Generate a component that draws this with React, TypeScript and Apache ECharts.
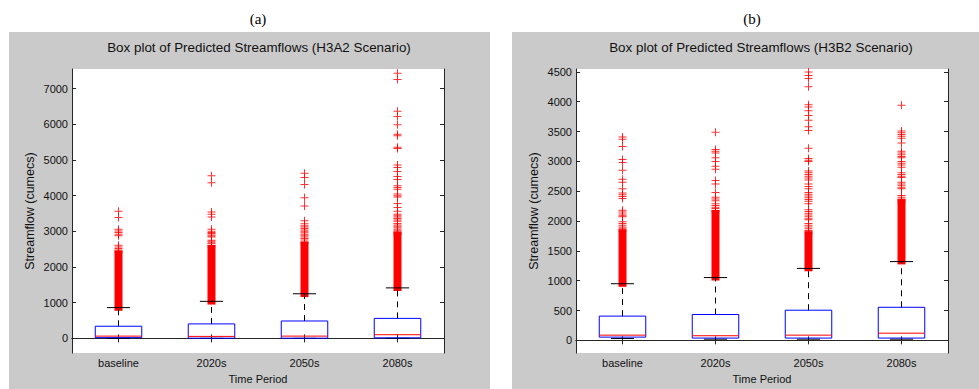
import React, { useEffect, useRef } from "react";
import * as echarts from "echarts";

const categories = ["baseline", "2020s", "2050s", "2080s"];

// H3A2 scenario (panel a)
const a_low = [0, 0, 0, 0];
const a_q1 = [20, 5, 5, 15];
const a_median = [63, 55, 63, 102];
const a_q3 = [340, 405, 487, 560];
const a_high = [862, 1038, 1250, 1415];
const a_denseLow = [885, 1060, 1270, 1440];
const a_denseHigh = [2350, 2500, 2600, 2880];
const a_outliers = [
  [3560, 3390, 3060, 3010, 2970, 2920, 2880, 2610, 2560, 2520, 2480, 2440, 2400],
  [4560, 4360, 3540, 3480, 3400, 3060, 3000, 2970, 2940, 2900, 2870, 2840, 2750, 2720, 2680, 2650, 2600, 2560],
  [4630, 4510, 4310, 3940, 3710, 3300, 3210, 3160, 3120, 3080, 3040, 3000, 2960, 2920, 2880, 2840, 2800, 2760, 2700, 2660],
  [7430, 7260, 6370, 6220, 5990, 5720, 5680, 5360, 5320, 4860, 4790, 4680, 4540, 4450, 4280, 4230, 4180, 4050, 4000, 3960, 3780, 3670, 3560, 3480, 3440, 3400, 3360, 3320, 3280, 3220, 3180, 3140, 3100, 3060, 3020, 2980, 2940, 2910],
];
const a_ticks = [0, 1000, 2000, 3000, 4000, 5000, 6000, 7000];

// H3B2 scenario (panel b)
const b_low = [30, 20, 20, 20];
const b_q1 = [54, 38, 38, 38];
const b_median = [87, 77, 87, 120];
const b_q3 = [406, 433, 505, 554];
const b_high = [949, 1052, 1206, 1320];
const b_denseLow = [965, 1070, 1225, 1340];
const b_denseHigh = [1790, 2120, 1760, 2300];
const b_outliers = [
  [3410, 3370, 3250, 3030, 2980, 2850, 2700, 2650, 2540, 2470, 2440, 2410, 2380, 2180, 2150, 2120, 2090, 2070, 1990, 1960, 1930, 1900, 1880, 1860, 1830],
  [3490, 3200, 3170, 3140, 3060, 3000, 2920, 2870, 2680, 2620, 2480, 2400, 2370, 2340, 2290, 2260, 2230, 2210, 2170, 2150],
  [4500, 4440, 4390, 4250, 3950, 3910, 3850, 3770, 3690, 3580, 3520, 3220, 3050, 3020, 3000, 2840, 2810, 2780, 2750, 2720, 2690, 2620, 2580, 2540, 2480, 2450, 2420, 2390, 2360, 2330, 2290, 2190, 2160, 2130, 2100, 2070, 2040, 2020, 1960, 1930, 1900, 1870, 1840, 1820, 1790],
  [3940, 3510, 3480, 3450, 3420, 3390, 3310, 3170, 3140, 3110, 3080, 3060, 3000, 2970, 2940, 2900, 2810, 2780, 2750, 2730, 2650, 2620, 2590, 2560, 2540, 2430, 2400, 2370, 2350, 2320],
];
const b_ticks = [0, 500, 1000, 1500, 2000, 2500, 3000, 3500, 4000, 4500];

const FONT = "Liberation Sans, Arial, Helvetica, sans-serif";
const AXIS_COLOR = "#262626";
const PLUS =
  "path://M0.875,0H1.125V0.875H2V1.125H1.125V2H0.875V1.125H0V0.875H0.875Z";

function boxRender(params: any, api: any) {
  const i = api.value(0);
  const pLow = api.coord([i, api.value(1)]);
  const pQ1 = api.coord([i, api.value(2)]);
  const pMed = api.coord([i, api.value(3)]);
  const pQ3 = api.coord([i, api.value(4)]);
  const pHigh = api.coord([i, api.value(5)]);
  const band = api.size([1, 0])[0];
  const half = band * 0.25;
  const capHalf = band * 0.125;
  const x = pMed[0];
  const black = { stroke: "#000", lineWidth: 1, fill: null };
  return {
    type: "group",
    children: [
      { type: "line", shape: { x1: x, y1: pQ3[1], x2: x, y2: pHigh[1] }, style: { ...black, lineDash: [6, 5] } },
      { type: "line", shape: { x1: x, y1: pQ1[1], x2: x, y2: pLow[1] }, style: { ...black, lineDash: [6, 5] } },
      { type: "line", shape: { x1: x - capHalf, y1: pHigh[1], x2: x + capHalf, y2: pHigh[1] }, style: black },
      { type: "line", shape: { x1: x - capHalf, y1: pLow[1], x2: x + capHalf, y2: pLow[1] }, style: black },
      { type: "rect", shape: { x: x - half, y: pQ3[1], width: half * 2, height: pQ1[1] - pQ3[1] }, style: { stroke: "#0000ff", lineWidth: 1, fill: null } },
      { type: "line", shape: { x1: x - half, y1: pMed[1], x2: x + half, y2: pMed[1] }, style: { stroke: "#ff0000", lineWidth: 1 } },
    ],
  };
}

function denseRender(params: any, api: any) {
  const i = api.value(0);
  const pLo = api.coord([i, api.value(1)]);
  const pHi = api.coord([i, api.value(2)]);
  return {
    type: "rect",
    shape: { x: pLo[0] - 4, y: pHi[1] - 4, width: 8, height: pLo[1] - pHi[1] + 8 },
    style: { fill: "#ff0000" },
  };
}

function panel(
  gi: number,
  left: number,
  height: number,
  min: number,
  max: number,
  ticks: number[],
  low: number[],
  q1: number[],
  med: number[],
  q3: number[],
  high: number[],
  dLow: number[],
  dHigh: number[],
  outs: number[][]
) {
  const grid = {
    left,
    top: 69,
    width: 372,
    height,
    show: true,
    backgroundColor: "#ffffff",
    borderWidth: 0,
  };
  const axisLine = { show: true, lineStyle: { color: AXIS_COLOR, width: 1 } };
  const xAxes = [
    {
      type: "category",
      gridIndex: gi,
      data: categories,
      position: "bottom",
      axisLine,
      axisTick: { show: true, inside: true, alignWithLabel: true, length: 4, lineStyle: { color: AXIS_COLOR } },
      axisLabel: { color: "#111", fontFamily: FONT, fontSize: 11, margin: 4 },
      name: "Time Period",
      nameLocation: "middle",
      nameGap: 19,
      nameTextStyle: { color: "#111", fontFamily: FONT, fontSize: 11 },
      splitLine: { show: false },
    },
    {
      type: "category",
      gridIndex: gi,
      data: categories,
      position: "top",
      axisLine,
      axisTick: { show: true, inside: true, alignWithLabel: true, length: 4, lineStyle: { color: AXIS_COLOR } },
      axisLabel: { show: false },
      splitLine: { show: false },
    },
  ];
  const yAxes = [
    {
      type: "value",
      gridIndex: gi,
      min,
      max,
      position: "left",
      axisLine,
      axisTick: { show: true, inside: true, length: 4, customValues: ticks, lineStyle: { color: AXIS_COLOR } },
      axisLabel: {
        color: "#111",
        fontFamily: FONT,
        fontSize: 11,
        margin: 4,
        customValues: ticks,
        formatter: (v: number) => String(Math.round(v)),
      },
      splitLine: { show: false },
      name: "Streamflow (cumecs)",
      nameLocation: "middle",
      nameGap: 36,
      nameTextStyle: { color: "#111", fontFamily: FONT, fontSize: 12.5 },
    },
    {
      type: "value",
      gridIndex: gi,
      min,
      max,
      position: "right",
      axisLine,
      axisTick: { show: true, inside: true, length: 4, customValues: ticks, lineStyle: { color: AXIS_COLOR } },
      axisLabel: { show: false },
      splitLine: { show: false },
    },
  ];
  const xi = gi * 2;
  const yi = gi * 2;
  const series = [
    {
      type: "custom",
      xAxisIndex: xi,
      yAxisIndex: yi,
      renderItem: denseRender,
      data: categories.map((_, i) => [i, dLow[i], dHigh[i]]),
      z: 2,
    },
    {
      type: "scatter",
      xAxisIndex: xi,
      yAxisIndex: yi,
      symbol: PLUS,
      symbolSize: 8,
      itemStyle: { color: "#ff0000" },
      data: outs.flatMap((vals, i) => vals.map((v) => [i, v])),
      z: 3,
    },
    {
      type: "custom",
      xAxisIndex: xi,
      yAxisIndex: yi,
      renderItem: boxRender,
      data: categories.map((_, i) => [i, low[i], q1[i], med[i], q3[i], high[i]]),
      z: 4,
    },
  ];
  return { grid, xAxes, yAxes, series };
}

export default function App() {
  const ref = useRef<HTMLDivElement>(null);
  useEffect(() => {
    if (!ref.current) return;
    const chart = echarts.init(ref.current, undefined, { renderer: "svg" });
    const pa = panel(0, 72, 289, -413, 7551, a_ticks, a_low, a_q1, a_median, a_q3, a_high, a_denseLow, a_denseHigh, a_outliers);
    const pb = panel(1, 576, 290, -214, 4549, b_ticks, b_low, b_q1, b_median, b_q3, b_high, b_denseLow, b_denseHigh, b_outliers);
    chart.setOption({
      animation: false,
      backgroundColor: "#ffffff",
      textStyle: { fontFamily: FONT },
      grid: [pa.grid, pb.grid],
      xAxis: [...pa.xAxes, ...pb.xAxes],
      yAxis: [...pa.yAxes, ...pb.yAxes],
      series: [...pa.series, ...pb.series],
      graphic: {
        elements: [
          { type: "rect", z: -10, silent: true, shape: { x: 9, y: 32, width: 481, height: 357 }, style: { fill: "#cacaca" } },
          { type: "rect", z: -10, silent: true, shape: { x: 512, y: 32, width: 467, height: 357 }, style: { fill: "#cacaca" } },
          { type: "text", z: 10, x: 258, y: 19, style: { text: "(a)", fill: "#000", font: "15px 'Liberation Serif', 'Times New Roman', serif", align: "center", verticalAlign: "middle" } },
          { type: "text", z: 10, x: 752, y: 19, style: { text: "(b)", fill: "#000", font: "15px 'Liberation Serif', 'Times New Roman', serif", align: "center", verticalAlign: "middle" } },
          { type: "text", z: 10, x: 259, y: 47, style: { text: "Box plot of Predicted Streamflows (H3A2 Scenario)", fill: "#111", font: "13.4px " + FONT, align: "center", verticalAlign: "middle" } },
          { type: "text", z: 10, x: 761, y: 47, style: { text: "Box plot of Predicted Streamflows (H3B2 Scenario)", fill: "#111", font: "13.4px " + FONT, align: "center", verticalAlign: "middle" } },
        ],
      },
    });
    return () => chart.dispose();
  }, []);
  return (
    <div
      ref={ref}
      style={{ position: "absolute", left: 0, top: 0, width: 979, height: 389 }}
    />
  );
}
